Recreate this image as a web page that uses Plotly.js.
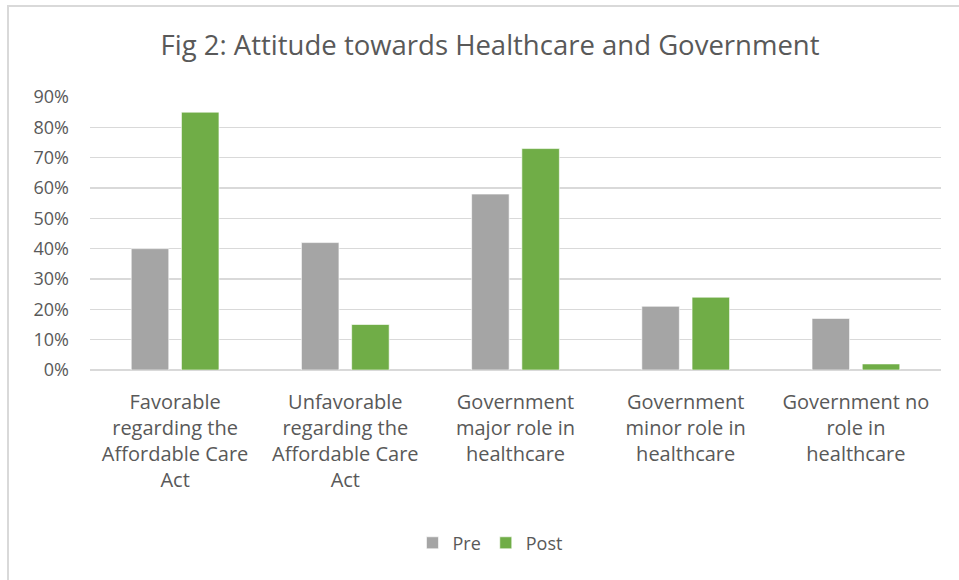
<!DOCTYPE html>
<html>
<head>
<meta charset="utf-8">
<script src="https://cdn.plot.ly/plotly-3.0.1.min.js"></script>
<style>
  html, body { margin: 0; padding: 0; background: #fff; }
  #wrap { position: relative; width: 959px; height: 580px; }
  #chart { width: 959px; height: 580px; }
  #frame { position: absolute; left: 7px; top: 5px; right: 0; bottom: 0;
           border-left: 2px solid #d9d9d9; border-top: 2px solid #d9d9d9; pointer-events: none; }
</style>
</head>
<body>
<div id="wrap"><div id="chart"></div><div id="frame"></div></div>
<script>
const categories = [
  "Favorable<br>regarding the<br>Affordable Care<br>Act",
  "Unfavorable<br>regarding the<br>Affordable Care<br>Act",
  "Government<br>major role in<br>healthcare",
  "Government<br>minor role in<br>healthcare",
  "Government no<br>role in<br>healthcare"
];
const preValues = [40, 42, 58, 21, 17];
const postValues = [85, 15, 73, 24, 2];
const yTicks = [0, 10, 20, 30, 40, 50, 60, 70, 80, 90];
const yTickLabels = ["0%", "10%", "20%", "30%", "40%", "50%", "60%", "70%", "80%", "90%"];

const font = "Open Sans, Liberation Sans, sans-serif";
const textColor = "#595959";

const traces = [
  { type: "bar", name: "Pre", x: categories, y: preValues,
    marker: { color: "#A5A5A5", line: { color: "rgba(255,255,255,0.6)", width: 1 } },
    hoverinfo: "none" },
  { type: "bar", name: "Post", x: categories, y: postValues,
    marker: { color: "#70AD47", line: { color: "rgba(255,255,255,0.6)", width: 1 } },
    hoverinfo: "none" }
];

const layout = {
  width: 959, height: 580,
  paper_bgcolor: "rgba(0,0,0,0)", plot_bgcolor: "#fff",
  margin: { l: 90, r: 18, t: 97, b: 210 },
  title: { text: "Fig 2: Attitude towards Healthcare and Government",
           font: { family: font, size: 27.5, color: textColor },
           x: 0.511, xref: "container", xanchor: "center",
           y: 0.922, yref: "container", yanchor: "middle" },
  barmode: "group", bargap: 0.41, bargroupgap: 0.253,
  xaxis: { type: "category", tickfont: { family: font, size: 20, color: textColor },
           showgrid: false, zeroline: false, showline: false, ticks: "",
           ticklabelstandoff: 18, fixedrange: true },
  yaxis: { range: [0, 90], tickmode: "array", tickvals: yTicks, ticktext: yTickLabels,
           tickfont: { family: font, size: 18, color: textColor },
           gridcolor: "#d9d9d9", gridwidth: 1.5, zeroline: true, zerolinecolor: "#d9d9d9",
           zerolinewidth: 1.5, showline: false, ticks: "", ticklabelstandoff: 20, fixedrange: true },
  showlegend: true,
  legend: { orientation: "h", x: 0.47, xanchor: "center", y: -0.634, yanchor: "middle",
            font: { family: font, size: 18, color: textColor }, itemwidth: 30,
            traceorder: "normal" }
};

Plotly.newPlot("chart", traces, layout, { displayModeBar: false, staticPlot: true });
</script>
</body>
</html>
